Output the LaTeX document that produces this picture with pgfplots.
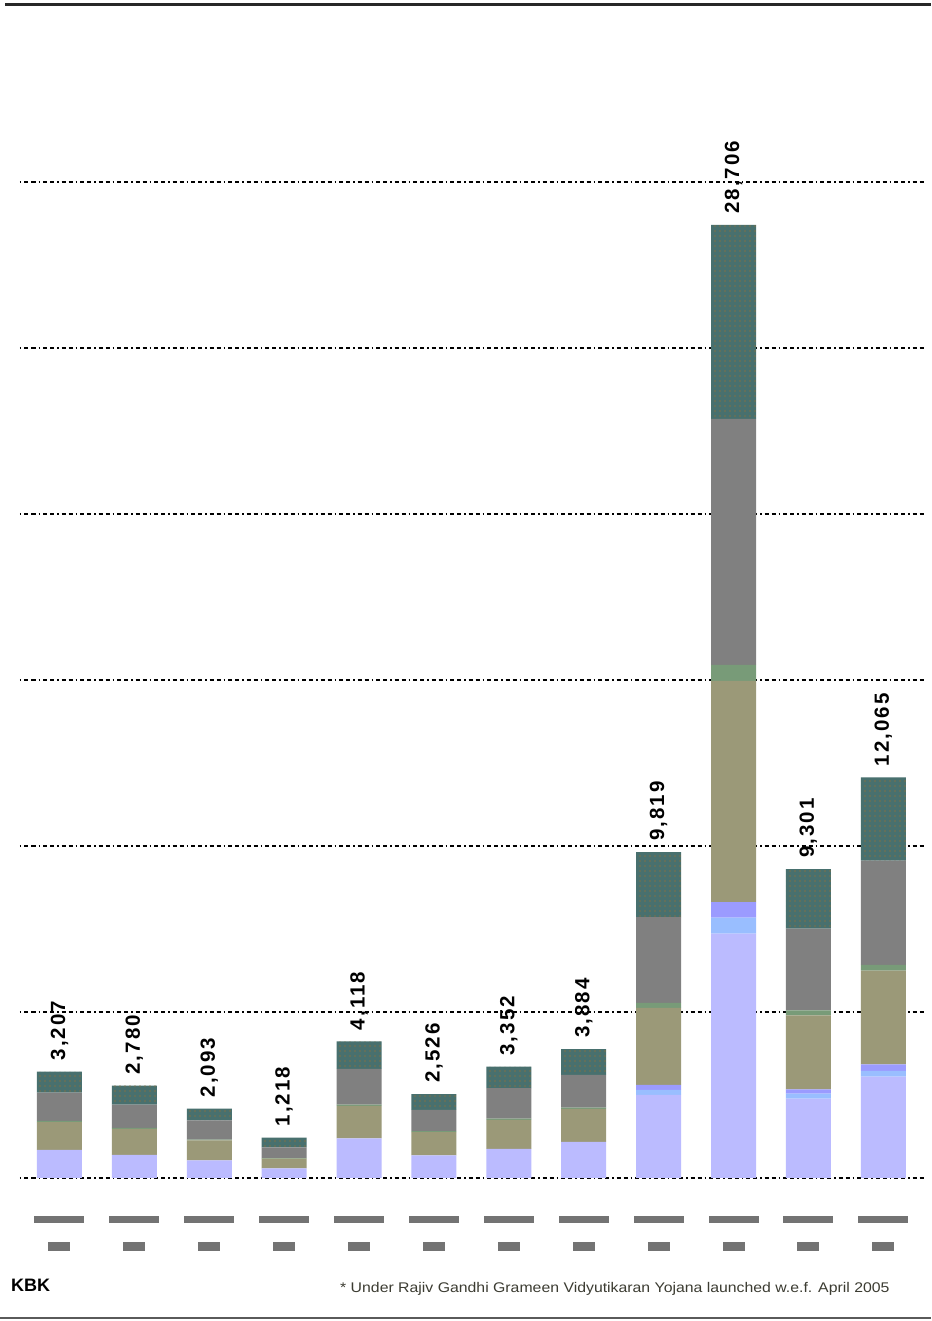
\documentclass[border=0pt]{standalone}
\usepackage{pgfplots}
\pgfplotsset{compat=1.18}
\usepackage{pgfplotstable}
\usepackage{fontspec}
\setmainfont{Liberation Sans}
\newfontfamily\lblfont{Liberation Sans}[LetterSpace=10]
\usetikzlibrary{patterns.meta}
\definecolor{lav}{RGB}{187,187,255}
\definecolor{lblue}{RGB}{153,190,255}
\definecolor{bblue}{RGB}{155,155,255}
\definecolor{olive}{RGB}{155,153,120}
\definecolor{sgreen}{RGB}{120,155,120}
\definecolor{mgrey}{RGB}{128,128,128}
\definecolor{tealc}{RGB}{72,112,110}
\definecolor{dotc}{RGB}{125,112,72}
\definecolor{tickgray}{RGB}{115,115,115}

\pgfplotstableread{
x lav lb blue olive green grey teal total label
0 850 0 0 830 40 850 637 3207 3,207
1 700 0 0 780 30 700 570 2780 2,780
2 530 0 0 600 25 580 358 2093 2,093
3 290 0 0 290 15 325 298 1218 1,218
4 1190 0 0 980 40 1080 828 4118 4,118
5 680 0 0 700 30 640 476 2526 2,526
6 880 0 0 870 35 925 642 3352 3,352
7 1090 0 0 995 35 985 779 3884 3,884
8 2505 151 151 2315 151 2584 1962 9819 9,819
9 7361 485 467 6657 482 7410 5844 28706 28,706
10 2390 152 131 2226 152 2460 1790 9301 9,301
11 3051 172 202 2819 172 3141 2508 12065 12,065
}\datatable

\begin{document}
\begin{tikzpicture}
\useasboundingbox (0pt,0pt) rectangle (931pt,1321pt);
\fill[white] (0pt,0pt) rectangle (931pt,1321pt);
\begin{axis}[
  at={(20pt,143pt)}, anchor=south west,
  scale only axis, width=905pt, height=996pt,
  ybar stacked, bar width=45pt,
  xmin=-0.527, xmax=11.557, ymin=0, ymax=30000,
  enlargelimits=false, clip=false,
  scaled y ticks=false,
  axis line style={draw=none},
  major tick length=0pt,
  ytick={0,5000,...,30000}, yticklabels={},
  ymajorgrids,
  major grid style={black, line width=1.8pt, dash pattern=on 1.5pt off 3pt on 4pt off 3pt on 4pt off 3pt},
  xtick={0,...,11},
  xticklabel={\rule{50pt}{7pt}\\\rule{22pt}{9pt}},
  xticklabel style={align=center, inner sep=0pt, text=tickgray, anchor=north, yshift=-38pt, font=\fontsize{8}{28}\selectfont},
]
\addplot[fill=lav, draw=none] table[x=x, y=lav] {\datatable};
\addplot[fill=lblue, draw=none] table[x=x, y=lb] {\datatable};
\addplot[fill=bblue, draw=none] table[x=x, y=blue] {\datatable};
\addplot[fill=olive, draw=none] table[x=x, y=olive] {\datatable};
\addplot[fill=sgreen, draw=none] table[x=x, y=green] {\datatable};
\addplot[fill=mgrey, draw=none] table[x=x, y=grey] {\datatable};
\addplot[fill=tealc, draw=none,
  postaction={pattern={Dots[distance=5pt,radius=0.8pt]}, pattern color=dotc}
] table[x=x, y=teal] {\datatable};
\end{axis}
\begin{axis}[
  at={(20pt,143pt)}, anchor=south west,
  scale only axis, width=905pt, height=996pt,
  xmin=-0.527, xmax=11.557, ymin=0, ymax=30000,
  enlargelimits=false, clip=false, hide axis,
]
\addplot[draw=none, mark=none,
  point meta=explicit symbolic,
  nodes near coords={\rotatebox{90}{\pgfplotspointmeta}},
  every node near coord/.append style={anchor=south, yshift=11pt, inner sep=0pt,
    font=\lblfont\bfseries\fontsize{20.5}{22}\selectfont, text=black}
] table[x=x, y=total, meta=label] {\datatable};
\end{axis}
\draw[line width=3pt, color={rgb,255:red,40;green,40;blue,40}] (5pt,1316pt) -- (931pt,1316pt);
\draw[line width=2.5pt, color={rgb,255:red,90;green,90;blue,90}] (0pt,3pt) -- (931pt,3pt);
\node[anchor=west, inner sep=0pt, font=\bfseries\fontsize{18}{20}\selectfont] at (11pt,36pt) {KBK};
\node[anchor=west, inner sep=0pt, font=\fontsize{14}{16}\selectfont, text={rgb,255:red,60;green,60;blue,50}] at (340pt,32pt) {\scalebox{1.13}[1]{* Under Rajiv Gandhi Grameen Vidyutikaran Yojana launched w.e.f. April 2005}};
\end{tikzpicture}
\end{document}
